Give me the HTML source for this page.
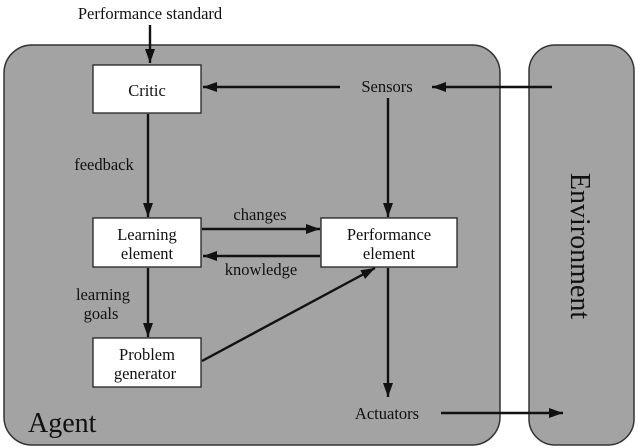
<!DOCTYPE html>
<html><head><meta charset="utf-8"><style>
html,body{margin:0;padding:0;background:#fff;}
svg{display:block;}
text{font-family:"Liberation Serif",serif;fill:#111;}
</style></head><body>
<svg width="643" height="448" viewBox="0 0 643 448" xmlns="http://www.w3.org/2000/svg">
<defs>
<marker id="a" viewBox="0 0 14 10" refX="14" refY="5" markerWidth="14" markerHeight="10" markerUnits="userSpaceOnUse" orient="auto">
<path d="M0,0 L14,5 L0,10 z" fill="#111"/></marker>
</defs>
<rect x="4" y="45" width="496" height="400" rx="28" fill="#a3a3a3" stroke="#333" stroke-width="1.5"/>
<rect x="529" y="45" width="105" height="400" rx="26" fill="#a3a3a3" stroke="#333" stroke-width="1.5"/>
<g stroke="#111" stroke-width="2.4" fill="none" marker-end="url(#a)">
<line x1="150" y1="25" x2="150" y2="63"/>
<line x1="340" y1="87" x2="203" y2="87"/>
<line x1="552" y1="87" x2="432" y2="87"/>
<line x1="388" y1="98" x2="388" y2="217"/>
<line x1="148" y1="114" x2="148" y2="217"/>
<line x1="202" y1="229" x2="320" y2="229"/>
<line x1="320" y1="256" x2="203" y2="256"/>
<line x1="148" y1="268" x2="148" y2="337"/>
<line x1="202" y1="361" x2="375" y2="268"/>
<line x1="388" y1="268" x2="388" y2="397"/>
<line x1="441" y1="413" x2="563" y2="413"/>
</g>
<g fill="#fff" stroke="#222" stroke-width="1.3">
<rect x="93" y="65" width="108" height="48"/>
<rect x="93" y="218" width="108" height="49"/>
<rect x="321" y="218" width="136" height="49"/>
<rect x="93" y="338" width="108" height="49"/>
</g>
<g font-size="16.5" text-anchor="middle">
<text x="150" y="19">Performance standard</text>
<text x="147" y="96">Critic</text>
<text x="147" y="240">Learning</text>
<text x="147" y="259">element</text>
<text x="389" y="240">Performance</text>
<text x="389" y="259">element</text>
<text x="147" y="360">Problem</text>
<text x="145" y="379">generator</text>
<text x="387" y="92">Sensors</text>
<text x="387" y="419">Actuators</text>
<text x="104" y="170">feedback</text>
<text x="260" y="220">changes</text>
<text x="261" y="275">knowledge</text>
<text x="103" y="300">learning</text>
<text x="101" y="319">goals</text>
</g>
<text x="28" y="432" font-size="28">Agent</text>
<text x="0" y="0" font-size="28" text-anchor="middle" transform="translate(571,246) rotate(90)">Environment</text>
</svg>
</body></html>
